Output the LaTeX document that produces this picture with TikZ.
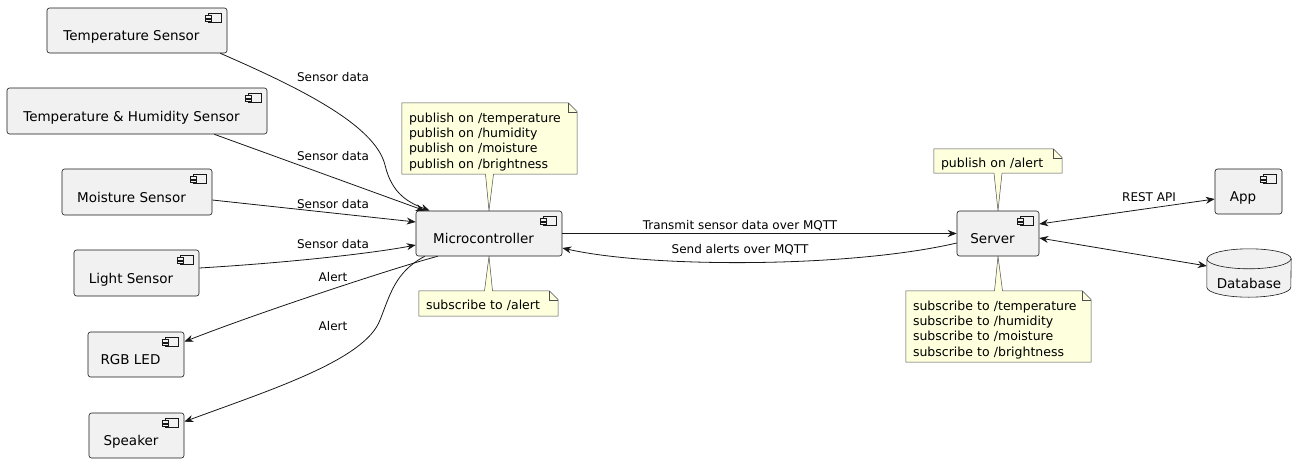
\documentclass[tikz,border=0pt]{standalone}
\usepackage{fontspec}
\setmainfont{DejaVu Sans}
\usetikzlibrary{arrows.meta,backgrounds}
\definecolor{compfill}{HTML}{F1F1F1}
\definecolor{notefill}{HTML}{FEFFDD}
\definecolor{linecol}{HTML}{181818}

% small component icon in the top right corner of a box
\newcommand\compicon[1]{%
  \draw[icon] ([shift={(-19,-6)}]#1.north east) rectangle ([shift={(-6,-15)}]#1.north east);
  \draw[icon, fill=compfill] ([shift={(-22,-8)}]#1.north east) rectangle ([shift={(-16,-10.5)}]#1.north east);
  \draw[icon, fill=compfill] ([shift={(-22,-11.5)}]#1.north east) rectangle ([shift={(-16,-14)}]#1.north east);}
% note with folded corner
\newcommand\notebg[1]{%
  \draw[notebd, fill=notefill] (#1.north west) -- ([xshift=-9pt]#1.north east) -- ([yshift=-9pt]#1.north east)
    -- (#1.south east) -- (#1.south west) -- cycle;
  \draw[notebd] ([xshift=-9pt]#1.north east) |- ([yshift=-9pt]#1.north east);}
% note tail: base, tip, depth into the note
\newcommand\notetail[3]{%
  \fill[notefill] ([shift={(-4,#3)}]#1) -- ([xshift=-4pt]#1) -- (#2) -- ([xshift=4pt]#1) -- ([shift={(4,#3)}]#1) -- cycle;
  \draw[notebd] ([xshift=-4pt]#1) -- (#2) -- ([xshift=4pt]#1);}

\begin{document}
\begin{tikzpicture}[x=1pt, y=1pt,
    comp/.style={draw=linecol, fill=compfill, rounded corners=2.5pt, line width=0.6pt, minimum height=45pt,
      inner xsep=2pt, inner ysep=0pt, text height=23pt, text depth=3pt,
      font=\fontsize{13.5}{16}\selectfont, execute at end node={\hspace*{11pt}}},
    db/.style={minimum width=84pt, minimum height=48pt, inner sep=0pt, text height=32pt, text depth=2pt,
      font=\fontsize{13.5}{16}\selectfont},
    note/.style={align=left, inner xsep=7pt, inner ysep=0pt, text height=15.5pt, text depth=3pt,
      font=\fontsize{12.5}{15.3}\selectfont},
    note4/.style={note, text height=16.5pt, text depth=48.9pt, minimum height=71pt},
    notebd/.style={draw=black!70, line width=0.5pt},
    icon/.style={draw=linecol, line width=0.5pt},
    lbl/.style={font=\fontsize{12}{14}\selectfont, inner sep=0pt},
    flow/.style={draw=linecol, line width=0.8pt, -{Stealth[length=9pt, width=7pt]}},
    both/.style={flow, {Stealth[length=9pt, width=7pt]}-{Stealth[length=9pt, width=7pt]}}]
  \useasboundingbox (0,0) rectangle (1306,-463);

  % components
  \node[comp, minimum width=180pt] (tsensor) at (137,-30.5) {Temperature Sensor};
  \node[comp, minimum width=260pt, minimum height=46pt] (thsensor) at (137,-111) {Temperature \& Humidity Sensor};
  \node[comp, minimum width=150pt, minimum height=46pt] (msensor) at (137,-192) {Moisture Sensor};
  \node[comp, minimum width=125pt, minimum height=46pt] (lsensor) at (136.5,-273) {Light Sensor};
  \node[comp, minimum width=96pt] (rgbled) at (136,-354.5) {RGB LED};
  \node[comp, minimum width=95pt] (speaker) at (136.5,-435.5) {Speaker};
  \node[comp, minimum width=146pt] (micro) at (489,-233.5) {Microcontroller};
  \node[comp, minimum width=82pt] (server) at (998,-233.5) {Server};
  \node[comp, minimum width=67pt] (app) at (1248.5,-191.5) {App};
  \node[db] (database) at (1249,-273) {Database};

  \compicon{tsensor}
  \compicon{thsensor}
  \compicon{msensor}
  \compicon{lsensor}
  \compicon{rgbled}
  \compicon{speaker}
  \compicon{micro}
  \compicon{server}
  \compicon{app}

  % notes
  \node[note4, text width=161pt] (pubnote) at (489.5,-138.5)
    {publish on /temperature\\publish on /humidity\\publish on /moisture\\publish on /brightness};
  \node[note, text width=125pt, minimum height=25pt] (alertnote) at (488.5,-303.5) {subscribe to /alert};
  \node[note, text width=114pt, minimum height=24pt] (srvpubnote) at (998,-161) {publish on /alert};
  \node[note4, text width=171pt] (srvsubnote) at (998.5,-326.5)
    {subscribe to /temperature\\subscribe to /humidity\\subscribe to /moisture\\subscribe to /brightness};

  \begin{scope}[on background layer]
    \notebg{pubnote}
    \notebg{alertnote}
    \notebg{srvpubnote}
    \notebg{srvsubnote}
    \notetail{pubnote.south}{micro.north}{1.5}
    \notetail{alertnote.north}{micro.south}{-1.5}
    \notetail{srvpubnote.south}{server.north}{1.5}
    \notetail{srvsubnote.north}{server.south}{-1.5}
    % database cylinder
    \draw[draw=linecol, fill=compfill, line width=0.6pt] ([yshift=-10pt]database.north west)
      -- ([yshift=10pt]database.south west) arc[start angle=180, end angle=360, x radius=42, y radius=10]
      -- ([yshift=-10pt]database.north east) arc[start angle=0, end angle=180, x radius=42, y radius=10] -- cycle;
    \draw[draw=linecol, line width=0.6pt] ([yshift=-10pt]database.north west)
      arc[start angle=180, end angle=360, x radius=42, y radius=10];
  \end{scope}

  % connectors
  \draw[flow] ([xshift=-7pt]tsensor.south east) .. controls (300,-88) and (375,-125) .. (385,-165)
    .. controls (392,-195) and (410,-203) .. ([xshift=14pt]micro.north west);
  \draw[flow] ([xshift=-53pt]thsensor.south east) -- ([xshift=9pt]micro.north west);
  \draw[flow] ([yshift=-8pt]msensor.east) -- ([yshift=11.5pt]micro.west);
  \draw[flow] ([yshift=5pt]lsensor.east) .. controls (300,-262) and (380,-252) .. ([yshift=-11.5pt]micro.west);
  \draw[flow] ([xshift=22pt]micro.south west) .. controls (400,-266) and (260,-312) .. ([yshift=-10pt]rgbled.north east);
  \draw[flow] ([xshift=9pt]micro.south west) .. controls (395,-272) and (390,-295) .. (380,-320)
    .. controls (365,-360) and (270,-390) .. ([yshift=-9pt]speaker.north east);
  \draw[flow] (micro.east) -- (server.west);
  \draw[flow] ([yshift=-9.5pt]server.west) .. controls (850,-268) and (650,-268) .. ([yshift=-14.5pt]micro.east);
  \draw[both] ([yshift=9.5pt]server.east) -- ([yshift=-7.5pt]app.west);
  \draw[both] ([yshift=-4.5pt]server.east) -- ([yshift=7pt]database.west);

  % connector labels
  \node[lbl] (sd1) at (333,-77) {Sensor data};
  \node[lbl] (sd2) at (333,-156) {Sensor data};
  \node[lbl] (sd3) at (333,-204) {Sensor data};
  \node[lbl] (sd4) at (333,-244) {Sensor data};
  \node[lbl] (al1) at (333,-277) {Alert};
  \node[lbl] (al2) at (333,-326) {Alert};
  \node[lbl] (tx) at (740,-226) {Transmit sensor data over MQTT};
  \node[lbl] (rx) at (740,-250) {Send alerts over MQTT};
  \node[lbl] (rest) at (1149,-197) {REST API};
\end{tikzpicture}
\end{document}
